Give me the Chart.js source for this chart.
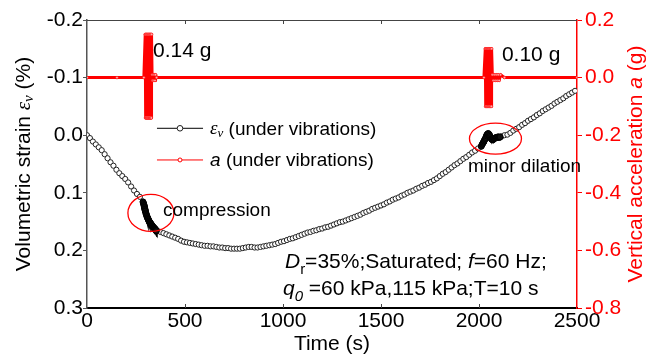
<!DOCTYPE html>
<html>
<head>
<meta charset="utf-8">
<script src="https://cdn.jsdelivr.net/npm/chart.js@4.4.0/dist/chart.umd.min.js"></script>
<style>
    html, body { margin: 0; padding: 0; background: #fff; }
    #box { width: 648px; height: 361px; }
</style>
</head>
<body>
<div id="box"><canvas id="strainChart"></canvas></div>
<script>
// volumetric strain (%), read every 15 s from 0 to 2490 s
const strainStep = 15;
const strainValues = [
    0.000, 0.005, 0.011, 0.016, 0.021, 0.026, 0.033, 0.040, 0.047, 0.053,
    0.060, 0.066, 0.071, 0.076, 0.082, 0.089, 0.096, 0.102, 0.107, 0.115,
    0.134, 0.148, 0.157, 0.163, 0.166, 0.168, 0.170, 0.172, 0.174, 0.176,
    0.178, 0.180, 0.183, 0.185, 0.186, 0.187, 0.188, 0.189, 0.190, 0.191,
    0.192, 0.192, 0.193, 0.193, 0.194, 0.195, 0.195, 0.196, 0.196, 0.197,
    0.197, 0.197, 0.197, 0.196, 0.195, 0.194, 0.194, 0.195, 0.195, 0.194,
    0.193, 0.192, 0.191, 0.190, 0.189, 0.187, 0.185, 0.184, 0.182, 0.180,
    0.179, 0.177, 0.175, 0.173, 0.171, 0.169, 0.168, 0.166, 0.165, 0.163,
    0.162, 0.160, 0.159, 0.157, 0.155, 0.153, 0.151, 0.150, 0.148, 0.146,
    0.144, 0.142, 0.140, 0.138, 0.135, 0.133, 0.131, 0.128, 0.126, 0.124,
    0.122, 0.120, 0.117, 0.115, 0.112, 0.110, 0.108, 0.105, 0.103, 0.100,
    0.098, 0.096, 0.093, 0.091, 0.088, 0.086, 0.083, 0.081, 0.078, 0.075,
    0.071, 0.067, 0.064, 0.060, 0.056, 0.052, 0.049, 0.045, 0.041, 0.038,
    0.034, 0.030, 0.027, 0.023, 0.020, 0.012, 0.000, -0.001, 0.006, 0.004,
    0.004, 0.002, 0.000, -0.001, -0.004, -0.008, -0.011, -0.014, -0.018, -0.021,
    -0.025, -0.028, -0.031, -0.035, -0.038, -0.042, -0.045, -0.048, -0.051, -0.055,
    -0.058, -0.061, -0.064, -0.068, -0.071, -0.074, -0.077
];

// dense readings while the vibrations run
const compressionTimes = [286, 288, 290, 291, 292, 293, 294, 295, 296, 297, 298, 300, 302, 304,
    306, 308, 310, 312, 314, 316, 318, 320, 322, 324, 326, 328, 330, 332, 334, 336, 338, 340,
    342, 344, 346, 348, 350, 352, 354];
const compressionValues = [0.116, 0.118, 0.120, 0.122, 0.123, 0.125, 0.126, 0.128, 0.129, 0.131,
    0.132, 0.135, 0.137, 0.139, 0.141, 0.143, 0.144, 0.146, 0.147, 0.149, 0.150, 0.151, 0.152,
    0.153, 0.154, 0.155, 0.156, 0.157, 0.158, 0.159, 0.160, 0.160, 0.161, 0.162, 0.163, 0.163,
    0.164, 0.165, 0.166];
const dilationTimes = [2012, 2016, 2020, 2023, 2026, 2029, 2032, 2035, 2038, 2041, 2044, 2047,
    2050, 2053, 2056, 2059, 2062, 2065, 2068, 2071, 2074, 2077, 2080, 2084, 2088, 2092, 2096,
    2100, 2104, 2108];
const dilationValues = [0.019, 0.016, 0.014, 0.012, 0.010, 0.008, 0.006, 0.004, 0.001, -0.001,
    -0.002, -0.003, -0.002, 0.000, 0.002, 0.004, 0.006, 0.007, 0.008, 0.008, 0.007, 0.006, 0.005,
    0.005, 0.004, 0.004, 0.003, 0.003, 0.004, 0.003];

// vertical acceleration (g)
const accelTimes = [0, 153, 290,
    297, 298.5, 300, 301.5, 303, 304.5, 306, 307.5, 309, 310.5, 312, 313.5, 315, 316.5, 318,
    319.5, 321, 322.5, 324, 325.5, 327, 328.5, 330,
    332, 335, 338, 341, 344, 347, 350, 355, 2025,
    2032, 2033.5, 2035, 2036.5, 2038, 2039.5, 2041, 2042.5, 2044, 2045.5, 2047, 2048.5, 2050,
    2051.5, 2053, 2054.5, 2056, 2057.5, 2059, 2060.5, 2062, 2063.5, 2065,
    2068, 2073, 2078, 2083, 2088, 2093, 2098, 2103, 2110, 2130, 2500];
const accelValues = [0, 0, 0,
    0.15, -0.14, 0.15, -0.14, 0.15, -0.14, 0.15, -0.14, 0.15, -0.14, 0.15, -0.14, 0.15, -0.14, 0.15,
    -0.14, 0.15, -0.14, 0.15, -0.14, 0.15, -0.14, 0.15,
    0.01, -0.01, 0.01, -0.01, 0.01, -0.01, 0.01, 0, 0,
    0.10, -0.10, 0.10, -0.10, 0.10, -0.10, 0.10, -0.10, 0.10, -0.10, 0.10, -0.10, 0.10,
    -0.10, 0.10, -0.10, 0.10, -0.10, 0.10, -0.10, 0.10, -0.10, 0.10,
    0.01, -0.01, 0.01, -0.01, 0.01, -0.01, 0.01, -0.01, 0.01, 0, 0];

const timeTicks = [0, 500, 1000, 1500, 2000, 2500];
const strainTicks = [-0.2, -0.1, 0.0, 0.1, 0.2, 0.3];
const accelTicks = [0.2, 0.0, -0.2, -0.4, -0.6, -0.8];

const SANS = "'Liberation Sans', Arial, sans-serif";
const SERIF = "'Liberation Serif', 'Times New Roman', serif";
const RED = '#ff0000';

// texto com itálico e subscrito
function drawRich(ctx, parts, x, y, size, align = 'left') {
    const fontOf = p => {
        const s = p.sub ? Math.round(size * 0.7) : size;
        return `${p.italic ? 'italic ' : ''}${s}px ${p.serif ? SERIF : SANS}`;
    };
    let total = 0;
    parts.forEach(p => { ctx.font = fontOf(p); total += ctx.measureText(p.t).width; });
    let cx = align === 'center' ? x - total / 2 : x;
    parts.forEach(p => {
        ctx.font = fontOf(p);
        ctx.fillText(p.t, cx, y + (p.sub ? size * 0.25 : 0));
        cx += ctx.measureText(p.t).width;
    });
}

const decorations = {
    id: 'decorations',
    afterDraw(chart) {
        const { ctx, chartArea: area, scales: { x, y } } = chart;
        const at = (t, s) => [x.getPixelForValue(t), y.getPixelForValue(s)];
        ctx.save();

        // top border and inward ticks
        ctx.strokeStyle = '#444';
        ctx.lineWidth = 1;
        ctx.beginPath();
        ctx.moveTo(area.left, area.top + 0.5);
        ctx.lineTo(area.right, area.top + 0.5);
        timeTicks.slice(1, -1).forEach(t => {
            const px = Math.round(x.getPixelForValue(t)) + 0.5;
            ctx.moveTo(px, area.top);
            ctx.lineTo(px, area.top + 4);
            ctx.moveTo(px, area.bottom);
            ctx.lineTo(px, area.bottom - 4);
        });
        ctx.stroke();

        // red ellipses
        ctx.strokeStyle = RED;
        ctx.lineWidth = 1.3;
        [[326, 0.135, 23, 18.5], [2084, 0.006, 26, 15.5]].forEach(([t, s, rx, ry]) => {
            const [cx, cy] = at(t, s);
            ctx.beginPath();
            ctx.ellipse(cx, cy, rx, ry, 0, 0, Math.PI * 2);
            ctx.stroke();
        });

        // annotations
        ctx.fillStyle = '#000';
        ctx.textBaseline = 'alphabetic';
        let p = at(337, -0.136);
        drawRich(ctx, [{ t: '0.14 g' }], p[0], p[1], 21);
        p = at(2117, -0.128);
        drawRich(ctx, [{ t: '0.10 g' }], p[0], p[1], 21);
        p = at(388, 0.141);
        drawRich(ctx, [{ t: 'compression' }], p[0], p[1], 19);
        p = at(1944, 0.064);
        drawRich(ctx, [{ t: 'minor dilation' }], p[0], p[1], 19);
        p = at(1010, 0.231);
        drawRich(ctx, [{ t: 'D', italic: true }, { t: 'r', sub: true }, { t: '=35%;Saturated; ' },
            { t: 'f', italic: true }, { t: '=60 Hz;' }], p[0], p[1], 21);
        p = at(1000, 0.278);
        drawRich(ctx, [{ t: 'q', italic: true }, { t: '0', italic: true, sub: true },
            { t: ' =60 kPa,115 kPa;T=10 s' }], p[0], p[1], 21);

        // legend
        const [accel, strain] = chart.data.datasets;
        const rows = [
            { ds: strain, s: -0.012, r: 2.8, parts: [{ t: 'ε', italic: true, serif: true }, { t: 'v', italic: true, serif: true, sub: true }, { t: ' (under vibrations)' }] },
            { ds: accel, s: 0.043, r: 2, parts: [{ t: 'a', italic: true }, { t: ' (under vibrations)' }] }
        ];
        rows.forEach(row => {
            const [x0, yy] = at(357, row.s);
            const x1 = x.getPixelForValue(592);
            ctx.strokeStyle = row.ds.borderColor;
            ctx.lineWidth = 1;
            ctx.beginPath();
            ctx.moveTo(x0, yy);
            ctx.lineTo(x1, yy);
            ctx.stroke();
            ctx.beginPath();
            ctx.arc((x0 + x1) / 2, yy, row.r, 0, Math.PI * 2);
            ctx.fillStyle = '#fff';
            ctx.fill();
            ctx.strokeStyle = row.ds.pointBorderColor;
            ctx.stroke();
            ctx.fillStyle = '#000';
            ctx.textBaseline = 'middle';
            drawRich(ctx, row.parts, x1 + 7, yy + 1, 19);
        });

        // axis titles
        ctx.textBaseline = 'middle';
        ctx.fillStyle = '#000';
        const midY = (area.top + area.bottom) / 2;
        drawRich(ctx, [{ t: 'Time (s)' }], (area.left + area.right) / 2, 344, 21, 'center');

        ctx.save();
        ctx.translate(24, midY);
        ctx.rotate(-Math.PI / 2);
        drawRich(ctx, [{ t: 'Volumetric strain ' }, { t: 'ε', italic: true, serif: true },
            { t: 'v', italic: true, serif: true, sub: true }, { t: ' (%)' }], 0, 0, 21, 'center');
        ctx.restore();

        ctx.save();
        ctx.fillStyle = RED;
        ctx.translate(636, midY);
        ctx.rotate(-Math.PI / 2);
        drawRich(ctx, [{ t: 'Vertical acceleration ' }, { t: 'a', italic: true }, { t: ' (g)' }], 0, 0, 21, 'center');
        ctx.restore();

        ctx.restore();
    }
};

Chart.defaults.font.family = SANS;
Chart.defaults.font.size = 21;
Chart.defaults.color = '#000';

const strainPoints = strainValues.map((v, i) => ({ x: i * strainStep, y: v }));
const compressionPoints = compressionTimes.map((t, i) => ({ x: t, y: compressionValues[i] }));
const dilationPoints = dilationTimes.map((t, i) => ({ x: t, y: dilationValues[i] }));
const accelPoints = accelTimes.map((t, i) => ({ x: t, y: accelValues[i] }));

const strainStyle = {
    yAxisID: 'y',
    showLine: true,
    borderColor: '#000',
    borderWidth: 0.8,
    pointRadius: 2.6,
    pointBorderWidth: 1,
    pointBorderColor: '#222',
    pointBackgroundColor: '#fff'
};
// denser readings end up as a solid black run
const denseStyle = {
    ...strainStyle,
    order: 0,
    borderWidth: 4,
    pointRadius: 3,
    pointBorderColor: '#000',
    pointBackgroundColor: '#111'
};

new Chart(document.getElementById('strainChart'), {
    type: 'scatter',
    data: {
        datasets: [
            {
                label: 'a (under vibrations)',
                data: accelPoints,
                order: 2,
                yAxisID: 'y2',
                showLine: true,
                borderColor: RED,
                borderWidth: 3,
                borderJoinStyle: 'round',
                pointRadius: 1.3,
                pointBorderWidth: 0.6,
                pointBorderColor: RED,
                pointBackgroundColor: '#ffb0b0'
            },
            { label: 'εv (under vibrations)', data: strainPoints, order: 1, ...strainStyle },
            { label: 'compression', data: compressionPoints, ...denseStyle },
            { label: 'dilation', data: dilationPoints, ...denseStyle }
        ]
    },
    options: {
        responsive: true,
        maintainAspectRatio: false,
        animation: false,
        layout: { padding: { top: 20, left: 0, right: 0, bottom: 0 } },
        plugins: { legend: { display: false }, tooltip: { enabled: false } },
        scales: {
            x: {
                type: 'linear',
                min: 0,
                max: 2500,
                afterBuildTicks: s => { s.ticks = timeTicks.map(v => ({ value: v })); },
                afterFit: s => { s.height = 53; },
                ticks: { padding: 1, maxRotation: 0, color: '#000', callback: v => String(v) },
                grid: { drawOnChartArea: false, drawTicks: false },
                border: { color: '#000', width: 2 }
            },
            y: {
                position: 'left',
                reverse: true,
                min: -0.2,
                max: 0.3,
                afterBuildTicks: s => { s.ticks = strainTicks.map(v => ({ value: v })); },
                afterFit: s => { s.width = 87; },
                ticks: { padding: 0, color: '#000', callback: v => v.toFixed(1) },
                grid: { drawOnChartArea: false, tickLength: 4, color: '#555' },
                border: { color: '#555', width: 1.5 }
            },
            y2: {
                position: 'right',
                min: -0.8,
                max: 0.2,
                afterBuildTicks: s => { s.ticks = accelTicks.map(v => ({ value: v })); },
                afterFit: s => { s.width = 71; },
                ticks: { padding: 3, color: RED, callback: v => v.toFixed(1) },
                grid: { drawOnChartArea: false, tickLength: 5, color: RED },
                border: { color: RED, width: 1.5 }
            }
        }
    },
    plugins: [decorations]
});
</script>
</body>
</html>
